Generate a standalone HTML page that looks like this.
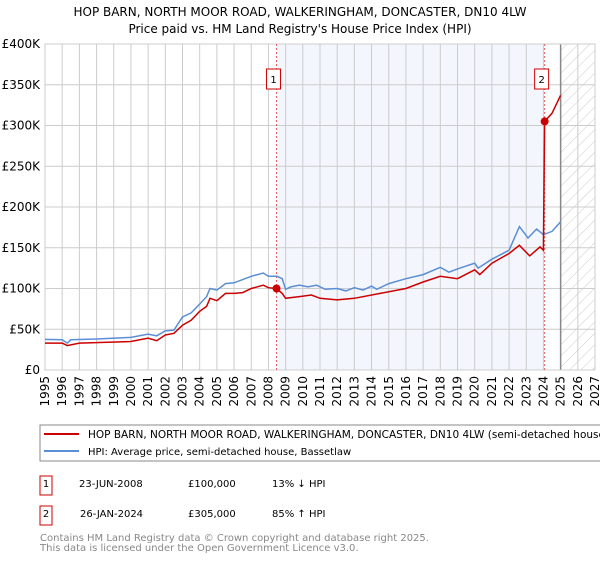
<!DOCTYPE html>
<html><head><meta charset="utf-8"><style>
body{margin:0;background:#fff;font-family:"DejaVu Sans","Liberation Sans",sans-serif;}
svg text{font-family:"DejaVu Sans","Liberation Sans",sans-serif;}
</style></head><body>
<svg id="c" width="600" height="560" xmlns="http://www.w3.org/2000/svg">
<defs><pattern id="hatch" width="8" height="8" patternUnits="userSpaceOnUse" patternTransform="rotate(45)"><line x1="0" y1="0" x2="0" y2="8" stroke="#ccc" stroke-width="1"/></pattern></defs>
<text x="300" y="16" text-anchor="middle" font-size="12" fill="#000">HOP BARN, NORTH MOOR ROAD, WALKERINGHAM, DONCASTER, DN10 4LW</text>
<text x="300" y="33" text-anchor="middle" font-size="12" fill="#000">Price paid vs. HM Land Registry's House Price Index (HPI)</text>
<g id="plot"></g>
<rect x="40" y="425" width="570" height="36" fill="#fff" stroke="#888"/>
<line x1="44" y1="434" x2="79" y2="434" stroke="#cc0000" stroke-width="2"/>
<text x="88" y="438" font-size="10.5">HOP BARN, NORTH MOOR ROAD, WALKERINGHAM, DONCASTER, DN10 4LW (semi-detached house)</text>
<line x1="44" y1="451" x2="79" y2="451" stroke="#5b8ed6" stroke-width="2"/>
<text x="88" y="455" font-size="10">HPI: Average price, semi-detached house, Bassetlaw</text>
<rect x="40" y="476" width="12" height="19" fill="#fff" stroke="#cc0000"/>
<text x="46" y="487" font-size="10" text-anchor="middle">1</text>
<text x="79" y="487" font-size="10">23-JUN-2008</text>
<text x="188" y="487" font-size="10">£100,000</text>
<text x="272" y="487" font-size="10">13% ↓ HPI</text>
<rect x="40" y="506" width="12" height="19" fill="#fff" stroke="#cc0000"/>
<text x="46" y="517" font-size="10" text-anchor="middle">2</text>
<text x="80" y="517" font-size="10">26-JAN-2024</text>
<text x="188" y="517" font-size="10">£305,000</text>
<text x="272" y="517" font-size="10">85% ↑ HPI</text>
<text x="40" y="541" font-size="10" fill="#888">Contains HM Land Registry data © Crown copyright and database right 2025.</text>
<text x="40" y="551" font-size="10" fill="#888">This data is licensed under the Open Government Licence v3.0.</text>
</svg>
<script>
const xTicks=[1995,1996,1997,1998,1999,2000,2001,2002,2003,2004,2005,2006,2007,2008,2009,2010,2011,2012,2013,2014,2015,2016,2017,2018,2019,2020,2021,2022,2023,2024,2025,2026,2027];
const yTicks=[0,50,100,150,200,250,300,350,400];
const yLabels=["£0","£50K","£100K","£150K","£200K","£250K","£300K","£350K","£400K"];
const hpiT=[1995,1996,1996.3,1996.5,1998,2000,2001,2001.5,2002,2002.5,2003,2003.5,2004,2004.4,2004.6,2005,2005.5,2006,2007,2007.7,2008,2008.5,2008.8,2009,2009.3,2009.8,2010.3,2010.8,2011.3,2012,2012.5,2013,2013.5,2014,2014.3,2015,2016,2017,2018,2018.5,2019,2020,2020.2,2021,2022,2022.6,2023.1,2023.6,2024,2024.5,2025];
const hpiV=[37.6,37,33,37,38,40,44,42,48,49,65,70,81,90,100,98,106,107,115,119,115,115,112,99,102,104,102,104,99,100,97,101,98,103,99,106,112,117,126,120,124,131,125,136,147,176,162,173,166,170,182];
const ppT=[1995,1996,1996.3,1997,2000,2001,2001.5,2002,2002.5,2003,2003.5,2004,2004.4,2004.6,2005,2005.5,2006,2006.5,2007,2007.7,2008,2008.47,2008.8,2009,2009.8,2010.5,2011,2012,2013,2014.5,2016,2017,2018,2019,2020,2020.3,2021,2022,2022.6,2023.2,2023.8,2024.0,2024.07,2024.5,2025];
const ppV=[33,33,30,33,35,39,36,43,45,55,61,72,78,88,85,94,94,95,100,104,101,100,94,88,90,92,88,86,88,94,100,108,115,112,123,117,131,143,153,140,151,147,305,315,337];
const sales=[{t:2008.47,v:100,n:"1"},{t:2024.07,v:305,n:"2"}];
const L=45,R=595,T=44,B=370;
const x=t=>L+(t-1995)*(R-L)/32;
const y=v=>B-v*(B-T)/400;
const NS="http://www.w3.org/2000/svg";
const g=document.getElementById('plot');
function mk(tag,a){const e=document.createElementNS(NS,tag);for(const k in a)e.setAttribute(k,a[k]);g.appendChild(e);return e;}
let e;
e=mk('rect',{x:x(2008.47),y:T,width:x(2024.07)-x(2008.47),height:B-T,fill:'#f3f6fd'});


e=mk('rect',{x:x(2025),y:T,width:R-x(2025),height:B-T,fill:'url(#hatch)'});


xTicks.forEach(t=>{e=mk('line',{x1:x(t),x2:x(t),y1:T,y2:B,stroke:'#ccc'});


e=mk('text',{x:0,y:0,'font-size':12,'text-anchor':'end',transform:`translate(${x(t)+4},${B+6}) rotate(-90)`});e.textContent=t;

});
yTicks.forEach((v,i)=>{e=mk('line',{x1:L,x2:R,y1:y(v),y2:y(v),stroke:'#ccc'});


e=mk('text',{x:L-5,y:y(v)+4,'font-size':12,'text-anchor':'end'});e.textContent=yLabels[i];

});
e=mk('line',{x1:x(2025),x2:x(2025),y1:T,y2:B,stroke:'#888','stroke-width':1.5});


e=mk('rect',{x:L,y:T,width:R-L,height:B-T,fill:'none',stroke:'#ccc'});


sales.forEach(s=>{e=mk('line',{x1:x(s.t),x2:x(s.t),y1:T,y2:B,stroke:'#e06060','stroke-dasharray':'2,2'});


e=mk('rect',{x:x(s.t)-10,y:69,width:14,height:20,fill:'#fff',stroke:'#cc0000'});


e=mk('text',{x:x(s.t)-3,y:83,'font-size':10,'text-anchor':'middle'});e.textContent=s.n;});
const pts=(T_,V)=>T_.map((t,i)=>x(t).toFixed(1)+','+y(V[i]).toFixed(1)).join(' ');
e=mk('polyline',{points:pts(hpiT,hpiV),fill:'none',stroke:'#5b8ed6','stroke-width':1.5});


e=mk('polyline',{points:pts(ppT,ppV),fill:'none',stroke:'#cc0000','stroke-width':1.5});


sales.forEach(s=>{e=mk('circle',{cx:x(s.t),cy:y(s.v),r:4,fill:'#cc0000'});

});
</script>
</body></html>
